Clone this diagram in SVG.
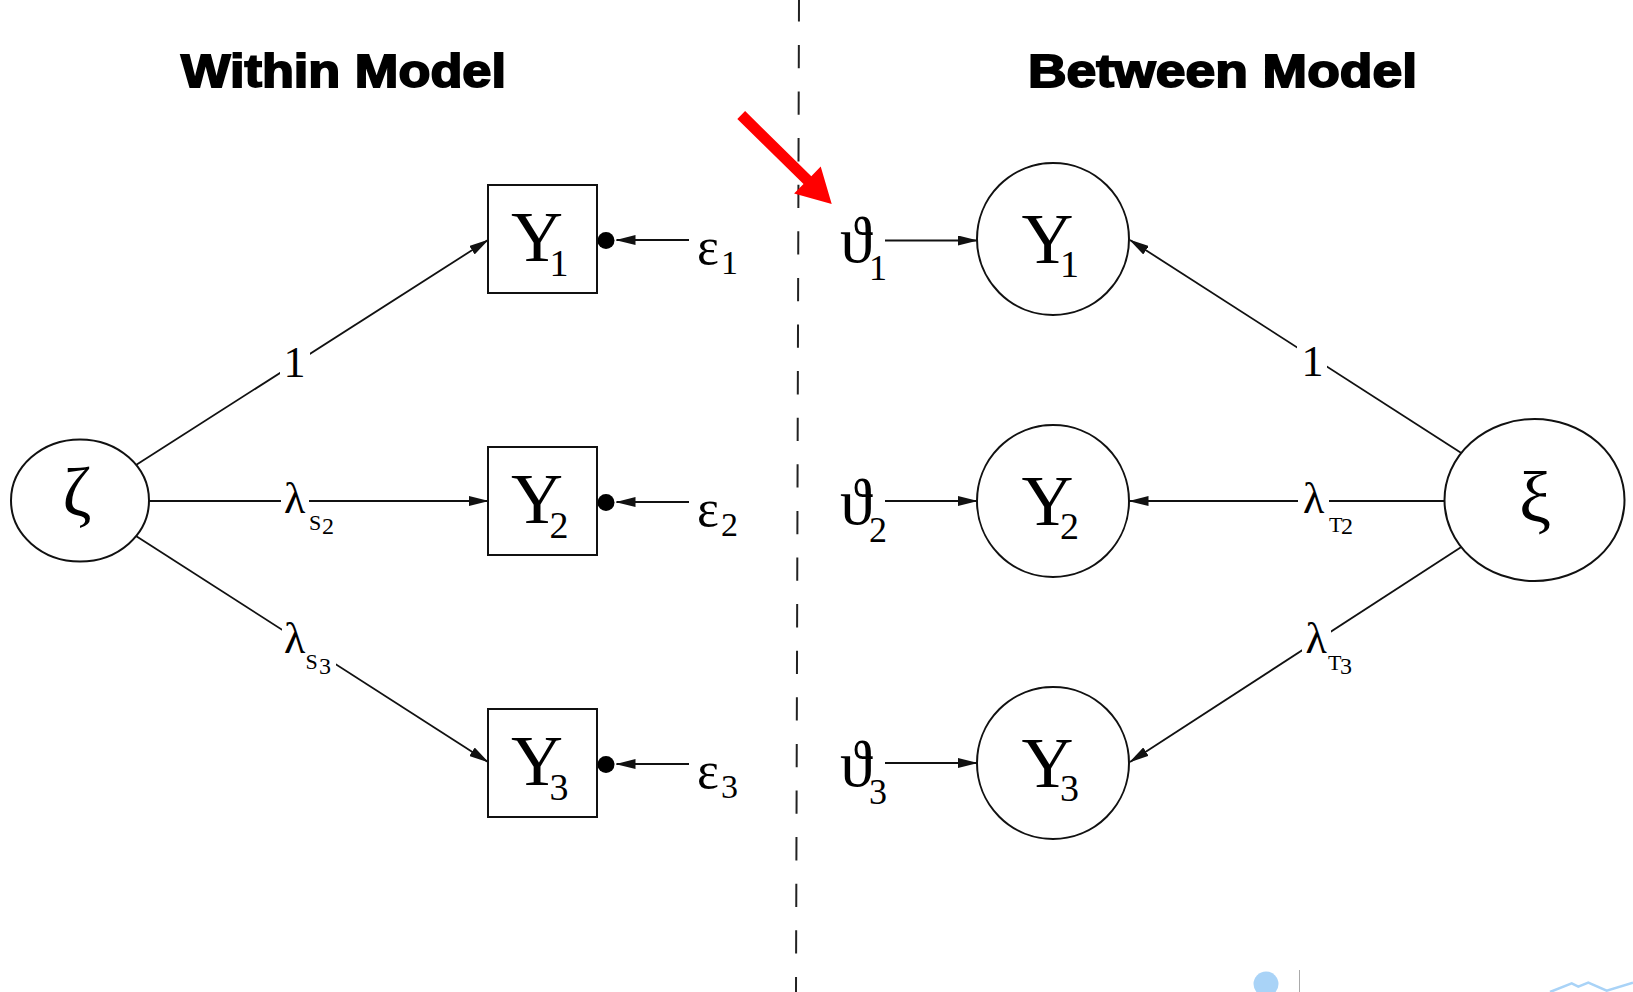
<svg xmlns="http://www.w3.org/2000/svg" width="1633" height="992" viewBox="0 0 1633 992">
<style>
.title{font-family:"Liberation Sans",Arial,sans-serif;font-weight:bold;font-size:46px;fill:#000;stroke:#000;stroke-width:1.8px;}
.m{font-family:"Liberation Serif","DejaVu Serif","Times New Roman",serif;fill:#000;}
.big{font-size:72px;}
.sub{font-size:38px;}
.lab{font-size:44px;}
.ss{font-size:22px;}
.sd{font-size:24px;}
.shape{fill:#fff;stroke:#111;stroke-width:2;}
.edge{stroke:#111;stroke-width:1.8;fill:none;}
.arr{marker-end:url(#ah);}
.bg{fill:#fff;stroke:none;}
</style>
<defs>
<marker id="ah" markerUnits="userSpaceOnUse" markerWidth="20" markerHeight="10" refX="19" refY="5" orient="auto">
<path d="M0,0 L20,5 L0,10 z" fill="#111"/>
</marker>
</defs>
<rect width="1633" height="992" fill="#fff"/>

<!-- titles -->
<text class="title" x="181" y="87" textLength="325" lengthAdjust="spacingAndGlyphs">Within Model</text>
<text class="title" x="1028" y="87" textLength="389" lengthAdjust="spacingAndGlyphs">Between Model</text>

<!-- divider -->
<line x1="799" y1="-1.7" x2="796" y2="992" stroke="#222" stroke-width="2" stroke-dasharray="23.3 23.3"/>

<!-- connectors -->
<g id="connectors">
  <line class="edge arr" x1="136" y1="465" x2="488" y2="240"/>
  <line class="edge arr" x1="149" y1="501" x2="488" y2="501"/>
  <line class="edge arr" x1="136" y1="536" x2="488" y2="762"/>
  <line class="edge arr" x1="689" y1="240" x2="616.5" y2="240"/>
  <line class="edge arr" x1="689" y1="502" x2="616.5" y2="502"/>
  <line class="edge arr" x1="689" y1="764" x2="616.5" y2="764"/>
  <line class="edge arr" x1="885" y1="240.5" x2="977" y2="240.5"/>
  <line class="edge arr" x1="885" y1="501" x2="977" y2="501"/>
  <line class="edge arr" x1="885" y1="763" x2="977" y2="763"/>
  <line class="edge arr" x1="1461.3" y1="453" x2="1130" y2="240"/>
  <line class="edge arr" x1="1444.5" y1="501" x2="1129.5" y2="501"/>
  <line class="edge arr" x1="1461.3" y1="547" x2="1130" y2="762"/>
  <!-- labels -->
  <rect class="bg" x="280" y="340" width="30" height="48"/>
  <text class="m lab" x="294.5" y="376.5" text-anchor="middle">1</text>
  <rect class="bg" x="281" y="477" width="28" height="48"/>
  <text class="m lab" x="284" y="513.3">λ<tspan class="ss" x="309" y="530">S</tspan><tspan class="sd" x="322" y="534">2</tspan></text>
  <rect class="bg" x="282" y="615" width="54" height="69"/>
  <text class="m lab" x="284" y="652.7">λ<tspan class="ss" x="305.5" y="668.5">S</tspan><tspan class="sd" x="319" y="674">3</tspan></text>
  <rect class="bg" x="1297" y="338" width="30" height="48"/>
  <text class="m lab" x="1312.5" y="376" text-anchor="middle">1</text>
  <rect class="bg" x="1298" y="477" width="31" height="48"/>
  <text class="m lab" x="1303" y="513.3">λ<tspan class="ss" x="1329" y="531.7">T</tspan><tspan class="sd" x="1341" y="534">2</tspan></text>
  <rect class="bg" x="1302" y="615" width="29" height="48"/>
  <text class="m lab" x="1305.5" y="653.3">λ<tspan class="ss" x="1328" y="670">T</tspan><tspan class="sd" x="1340" y="674">3</tspan></text>
</g>

<!-- within model nodes -->
<g id="zeta">
  <ellipse class="shape" cx="80" cy="500.5" rx="69" ry="61"/>
  <text class="m" x="77" y="516" font-size="70" text-anchor="middle">ζ</text>
</g>
<g id="wY1">
  <rect class="shape" x="488" y="185" width="109" height="108"/>
  <text class="m big" x="511" y="261">Y<tspan class="sub" x="549.5" y="276">1</tspan></text>
</g>
<g id="wY2">
  <rect class="shape" x="488" y="447" width="109" height="108"/>
  <text class="m big" x="511" y="523">Y<tspan class="sub" x="549.5" y="538">2</tspan></text>
</g>
<g id="wY3">
  <rect class="shape" x="488" y="709" width="109" height="108"/>
  <text class="m big" x="511" y="785">Y<tspan class="sub" x="549.5" y="800">3</tspan></text>
</g>
<g id="dots">
  <circle cx="606" cy="240.5" r="8.5" fill="#000"/>
  <circle cx="606" cy="502.5" r="8.5" fill="#000"/>
  <circle cx="606" cy="764.5" r="8.5" fill="#000"/>
</g>
<g id="eps1">
  <text class="m" x="697" y="263.5" font-size="52">ε<tspan font-size="34" x="721" y="274">1</tspan></text>
</g>
<g id="eps2">
  <text class="m" x="697" y="525.5" font-size="52">ε<tspan font-size="34" x="721" y="536">2</tspan></text>
</g>
<g id="eps3">
  <text class="m" x="697" y="787.5" font-size="52">ε<tspan font-size="34" x="721" y="798">3</tspan></text>
</g>

<!-- between model nodes -->
<g id="theta1">
  <text class="m" x="840" y="262" font-size="66">ϑ<tspan font-size="36" x="869" y="280">1</tspan></text>
</g>
<g id="theta2">
  <text class="m" x="840" y="524" font-size="66">ϑ<tspan font-size="36" x="869" y="542">2</tspan></text>
</g>
<g id="theta3">
  <text class="m" x="840" y="786" font-size="66">ϑ<tspan font-size="36" x="869" y="804">3</tspan></text>
</g>
<g id="bY1">
  <circle class="shape" cx="1053" cy="239" r="76"/>
  <text class="m big" x="1021.5" y="262.5">Y<tspan class="sub" x="1060" y="276.5">1</tspan></text>
</g>
<g id="bY2">
  <circle class="shape" cx="1053" cy="501" r="76"/>
  <text class="m big" x="1021.5" y="524.5">Y<tspan class="sub" x="1060" y="538.5">2</tspan></text>
</g>
<g id="bY3">
  <circle class="shape" cx="1053" cy="763" r="76"/>
  <text class="m big" x="1021.5" y="786.5">Y<tspan class="sub" x="1060" y="800.5">3</tspan></text>
</g>
<g id="xi">
  <ellipse class="shape" cx="1534.5" cy="500" rx="90" ry="81"/>
  <text class="m" x="1535" y="522" font-size="72" text-anchor="middle">ξ</text>
</g>

<!-- red pointer -->
<polygon fill="#ff0000" points="745.1,111.1 811.3,176.2 820.7,166.6 831.7,204 794.1,193.6 803.5,184.0 737.3,118.9"/>

<!-- bottom-right fragments -->
<circle cx="1266" cy="984" r="12.5" fill="#a9d3f7"/>
<line x1="1299.5" y1="970" x2="1299.5" y2="992" stroke="#aaa" stroke-width="1"/>
<polyline points="1550,992 1571.7,983.3 1578.3,986.7 1588.3,982.7 1606.7,990.7 1633,982.7" fill="none" stroke="#a9d3f7" stroke-width="2.5"/>
</svg>
